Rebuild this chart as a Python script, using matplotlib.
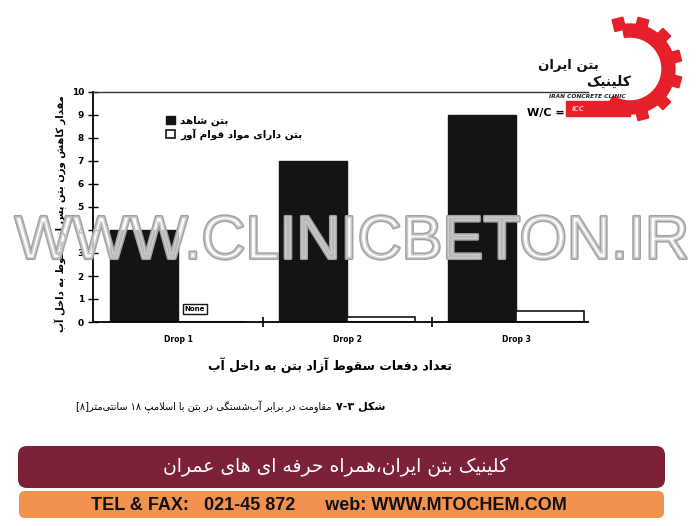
import re
import numpy as np
import matplotlib
matplotlib.use("Agg")
import matplotlib.pyplot as plt
import matplotlib.patheffects as pe
from matplotlib.patches import FancyBboxPatch, Wedge, Rectangle, Polygon

# data
categories = ["Drop 1", "Drop 2", "Drop 3"]
control_loss = [4, 7, 9]          # بتن شاهد
admixture_loss = [0, 0.2, 0.5]    # بتن دارای مواد قوام آور
y_ticks = list(range(0, 11))

legend_labels = ["بتن شاهد", "بتن دارای مواد قوام آور"]
y_label = "مقدار کاهش وزن بتن پس از سقوط به داخل آب"
x_label = "تعداد دفعات سقوط آزاد بتن به داخل آب"
caption_bold = "شکل ۷-۳"
caption_rest = "مقاومت در برابر آب‌شستگی در بتن با اسلامپ ۱۸ سانتی‌متر[۸]"
banner_text = "کلینیک بتن ایران،همراه حرفه ای های عمران"
contact_text = "TEL & FAX:   021-45 872      web: WWW.MTOCHEM.COM"
logo_top = "بتن ایران"
logo_bottom = "کلینیک"
watermark = "WWW.CLINICBETON.IR"

# --- tiny persian shaper (matplotlib has no bidi / joining) ---
# letter -> (isolated form codepoint, number of forms)
JOIN = {'آ': (0xFE81, 2), 'ا': (0xFE8D, 2), 'ب': (0xFE8F, 4), 'پ': (0xFB56, 4),
        'ت': (0xFE95, 4), 'ث': (0xFE99, 4), 'ج': (0xFE9D, 4), 'چ': (0xFB7A, 4),
        'ح': (0xFEA1, 4), 'خ': (0xFEA5, 4), 'د': (0xFEA9, 2), 'ذ': (0xFEAB, 2),
        'ر': (0xFEAD, 2), 'ز': (0xFEAF, 2), 'ژ': (0xFB8A, 2), 'س': (0xFEB1, 4),
        'ش': (0xFEB5, 4), 'ص': (0xFEB9, 4), 'ض': (0xFEBD, 4), 'ط': (0xFEC1, 4),
        'ظ': (0xFEC5, 4), 'ع': (0xFEC9, 4), 'غ': (0xFECD, 4), 'ف': (0xFED1, 4),
        'ق': (0xFED5, 4), 'ک': (0xFB8E, 4), 'گ': (0xFB92, 4), 'ل': (0xFEDD, 4),
        'م': (0xFEE1, 4), 'ن': (0xFEE5, 4), 'ه': (0xFEE9, 4), 'و': (0xFEED, 2),
        'ی': (0xFBFC, 4)}
MIRROR = {'[': ']', ']': '[', '(': ')', ')': '('}
DIGITS = '0123456789۰۱۲۳۴۵۶۷۸۹'


def shape(s):
    out = []
    i = 0
    while i < len(s):
        c = s[i]
        if c not in JOIN:
            if c != '\u200c':
                out.append(c)
            i += 1
            continue
        prev = s[i - 1] if i > 0 else ''
        link_prev = prev in JOIN and JOIN[prev][1] == 4
        nxt = s[i + 1] if i + 1 < len(s) else ''
        if c == 'ل' and nxt and nxt in 'اآ':
            base = 0xFEFB if nxt == 'ا' else 0xFEF5
            out.append(chr(base + (1 if link_prev else 0)))
            i += 2
            continue
        link_next = JOIN[c][1] == 4 and nxt in JOIN
        if link_prev and link_next:
            k = 3
        elif link_prev:
            k = 1
        elif link_next:
            k = 2
        else:
            k = 0
        out.append(chr(JOIN[c][0] + k))
        i += 1
    return ''.join(out)


def fa(s):
    s = shape(s)
    parts = re.findall(r'[0-9۰-۹]+(?:[\-.٫][0-9۰-۹]+)*|[^0-9۰-۹]+', s)
    out = []
    for p in reversed(parts):
        if p[0] in DIGITS:
            out.append(p)
        else:
            out.append(''.join(MIRROR.get(ch, ch) for ch in reversed(p)))
    return ''.join(out)


plt.rcParams['font.family'] = ['DejaVu Sans']

fig = plt.figure(figsize=(7, 5.26), dpi=100)
fig.patch.set_facecolor('white')

# main chart axes, placed in the same pixel box as the scan
ax = fig.add_axes([93 / 700, 1 - 322 / 526, (588 - 93) / 700, (322 - 92) / 526])
x = np.arange(len(categories))
w = 0.4
ax.bar(x - w / 2, control_loss, w, color='#141414', edgecolor='#141414', label=fa(legend_labels[0]))
ax.bar(x + w / 2, admixture_loss, w, color='white', edgecolor='#141414', linewidth=1.2,
       label=fa(legend_labels[1]))
ax.set_xlim(-0.503, 2.426)
ax.set_ylim(0, 10)
ax.set_yticks(y_ticks)
ax.set_yticklabels([str(t) for t in y_ticks], fontsize=6.5, fontweight='bold')
ax.set_xticks(x)
ax.set_xticklabels(categories, fontsize=5.5, fontweight='bold')
ax.tick_params(axis='x', length=0, pad=9)
ax.set_xticks([0.5, 1.5], minor=True)
ax.tick_params(axis='x', which='minor', direction='inout', length=7, width=1.2)
ax.tick_params(axis='y', direction='inout', length=7, width=1.0, pad=3)
ax.spines['right'].set_visible(False)
ax.spines['left'].set_linewidth(1.3)
ax.spines['bottom'].set_linewidth(1.3)
ax.spines['top'].set_linewidth(1.0)
ax.spines['top'].set_color('#333333')

ax.text(0.1, 0.56, 'None', fontsize=5, fontweight='bold', ha='center', va='center',
        bbox=dict(boxstyle='square,pad=0.25', fc='white', ec='#141414', lw=1.0))

ax.legend(loc='upper left', bbox_to_anchor=(0.14, 0.915), frameon=False,
          prop=dict(size=7.5, weight='bold'), handlelength=0.8, handleheight=0.8,
          handletextpad=0.5, labelspacing=0.25, borderaxespad=0)

# overlay in image pixel coordinates for text, logo, watermark and banners
ov = fig.add_axes([0, 0, 1, 1], zorder=5)
ov.set_xlim(0, 700)
ov.set_ylim(526, 0)
ov.axis('off')
ov.patch.set_alpha(0)

ov.text(61, 214, fa(y_label), rotation=90, ha='center', va='center', fontsize=7.2, fontweight='bold')
ov.text(330, 365, fa(x_label), ha='center', va='center', fontsize=9, fontweight='bold')

# caption: bold figure number on the right, rest of the sentence to its left
cap_b = ov.text(385, 407, fa(caption_bold), ha='right', va='center', fontsize=8, fontweight='bold')
fig.canvas.draw()
bb = cap_b.get_window_extent(fig.canvas.get_renderer())
ov.text(385 - bb.width - 4, 407, fa(caption_rest), ha='right', va='center', fontsize=7)

ov.text(527, 113, 'W/C =', ha='left', va='center', fontsize=8, fontweight='bold')

# logo: red gear ring with teeth and bottom bar
red = '#e5202a'
cx, cy = 630, 69
ov.add_patch(Wedge((cx, cy), 45, -100, 122, width=13, color=red))
for ang in [-75, -45, -15, 15, 45, 75, 104]:
    a = np.deg2rad(ang)
    ux, uy = np.cos(a), -np.sin(a)   # image y is flipped
    tx, ty = -uy, ux
    r0, r1, hw = 40, 52, 5.5
    pts = [(cx + ux * r0 + tx * hw, cy + uy * r0 + ty * hw),
           (cx + ux * r1 + tx * hw, cy + uy * r1 + ty * hw),
           (cx + ux * r1 - tx * hw, cy + uy * r1 - ty * hw),
           (cx + ux * r0 - tx * hw, cy + uy * r0 - ty * hw)]
    ov.add_patch(Polygon(pts, closed=True, color=red))
ov.add_patch(Rectangle((566, 101), 64, 15, color=red))
ov.text(578, 109, 'ICC', fontsize=5, color='#f5c0c0', fontweight='bold', style='italic',
        ha='center', va='center')
ov.text(568, 66, fa(logo_top), ha='center', va='center', fontsize=9.5, fontweight='bold',
        color='#111111')
ov.text(609, 82, fa(logo_bottom), ha='center', va='center', fontsize=10, fontweight='bold',
        color='#111111')
ov.text(587, 96, 'IRAN CONCRETE CLINIC', ha='center', va='center', fontsize=4.2,
        fontweight='bold', style='italic', color='#222222')

# watermark: hollow grey letters across the chart
ov.text(352, 243, watermark, ha='center', va='center', fontsize=44,
        family=['Liberation Sans', 'DejaVu Sans'], color=(1, 1, 1, 0.45),
        path_effects=[pe.Stroke(linewidth=2.2, foreground='#a2a2a2'), pe.Normal()])

# footer banners
ov.add_patch(FancyBboxPatch((24, 452), 635, 30, boxstyle='round,pad=6,rounding_size=9',
                            fc='#7b2238', ec='none'))
ov.text(336, 467, fa(banner_text), ha='center', va='center', fontsize=13.5, color='white')
ov.add_patch(FancyBboxPatch((22, 494), 639, 21, boxstyle='round,pad=3,rounding_size=6',
                            fc='#f3914f', ec='none'))
ov.text(329, 505, contact_text, ha='center', va='center', fontsize=13, fontweight='bold',
        family=['Liberation Sans', 'DejaVu Sans'], color='#111111')

fig.savefig('out.png', dpi=100)
